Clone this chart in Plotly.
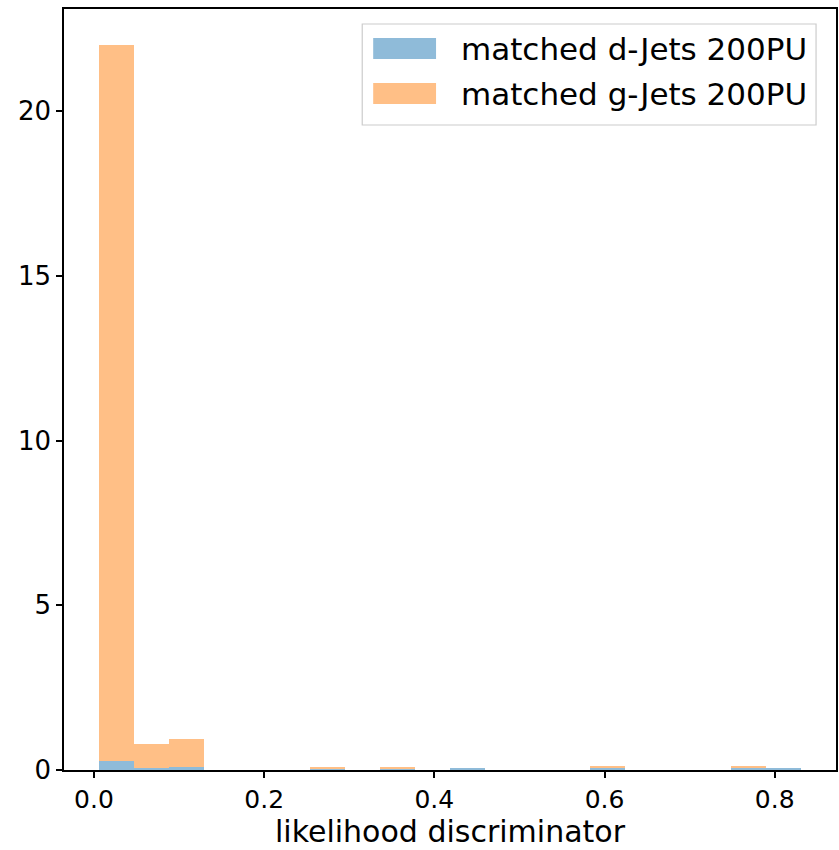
import numpy as np
import plotly.graph_objects as go

# Histogram binning: 20 equal-width bins over the discriminator range
bin_edges = np.linspace(0.006, 0.8307, 21)
bin_centers = 0.5 * (bin_edges[:-1] + bin_edges[1:])
bin_width = bin_edges[1] - bin_edges[0]

# Normalised counts per bin (stacked: g-Jets sits on top of d-Jets)
d_jets_200pu = [0.28, 0.06, 0.09, 0, 0, 0, 0.03, 0, 0.03, 0,
                0.05, 0, 0, 0, 0.07, 0, 0, 0, 0.06, 0.06]
g_jets_200pu = [21.72, 0.74, 0.86, 0, 0, 0, 0.05, 0, 0.07, 0,
                0, 0, 0, 0, 0.04, 0, 0, 0, 0.05, 0]

series_names = ["matched d-Jets 200PU", "matched g-Jets 200PU"]
series_colors = ["rgba(31,119,180,0.5)", "rgba(255,127,14,0.5)"]

x_ticks = [0.0, 0.2, 0.4, 0.6, 0.8]
x_tick_text = ["0.0", "0.2", "0.4", "0.6", "0.8"]
y_ticks = [0, 5, 10, 15, 20]

FONT = "DejaVu Sans"
W, H = 839, 850
M_L, M_R, M_T, M_B = 64, 1, 9, 80

fig = go.Figure()
for name, vals, col in zip(series_names, [d_jets_200pu, g_jets_200pu], series_colors):
    fig.add_trace(go.Bar(
        x=bin_centers, y=vals, width=bin_width, name=name,
        marker=dict(color=col, line=dict(width=0)),
        showlegend=False,
    ))

fig.update_layout(
    width=W, height=H,
    margin=dict(l=M_L, r=M_R, t=M_T, b=M_B),
    paper_bgcolor="white", plot_bgcolor="white",
    barmode="stack", bargap=0,
    font=dict(family=FONT, size=26, color="black"),
    xaxis=dict(
        range=[-0.0352, 0.872], tickvals=x_ticks, ticktext=x_tick_text,
        tickfont=dict(size=25),
        showline=True, mirror=True, linecolor="black", linewidth=1.5,
        ticks="outside", ticklen=6, tickwidth=1.5, tickcolor="black",
        showgrid=False, zeroline=False,
    ),
    yaxis=dict(
        range=[0, 23.1], tickvals=y_ticks,
        showline=True, mirror=True, linecolor="black", linewidth=1.5,
        ticks="outside", ticklen=6, tickwidth=1.5, tickcolor="black",
        showgrid=False, zeroline=False,
    ),
)

# Pixel -> paper coordinate helpers for the plot area
PLOT_L, PLOT_R, PLOT_T, PLOT_B = M_L, W - M_R, M_T, H - M_B
def px(x):
    return (x - PLOT_L) / (PLOT_R - PLOT_L)
def py(y):
    return (PLOT_B - y) / (PLOT_B - PLOT_T)

# x-axis label, sitting at the bottom edge of the figure
fig.add_annotation(xref="paper", yref="paper", x=0.5, y=py(H),
                   text="likelihood discriminator", showarrow=False,
                   xanchor="center", yanchor="bottom", borderpad=0,
                   font=dict(size=30, family=FONT, color="black"))

# Legend box with colour swatches
fig.add_shape(type="rect", xref="paper", yref="paper",
              x0=px(363), x1=px(818), y0=py(24), y1=py(125),
              line=dict(color="rgba(204,204,204,1)", width=1.2),
              fillcolor="rgba(255,255,255,0.8)", layer="above")
for i, (name, col) in enumerate(zip(series_names, series_colors)):
    top = 38 + i * 45
    fig.add_shape(type="rect", xref="paper", yref="paper",
                  x0=px(374), x1=px(437), y0=py(top), y1=py(top + 21),
                  line=dict(width=0), fillcolor=col, layer="above")
    fig.add_annotation(xref="paper", yref="paper", x=px(460), y=py(top + 10.5),
                       text=name, showarrow=False, xanchor="left", yanchor="middle",
                       font=dict(size=31, family=FONT, color="black"))

fig.write_html("out.html")
